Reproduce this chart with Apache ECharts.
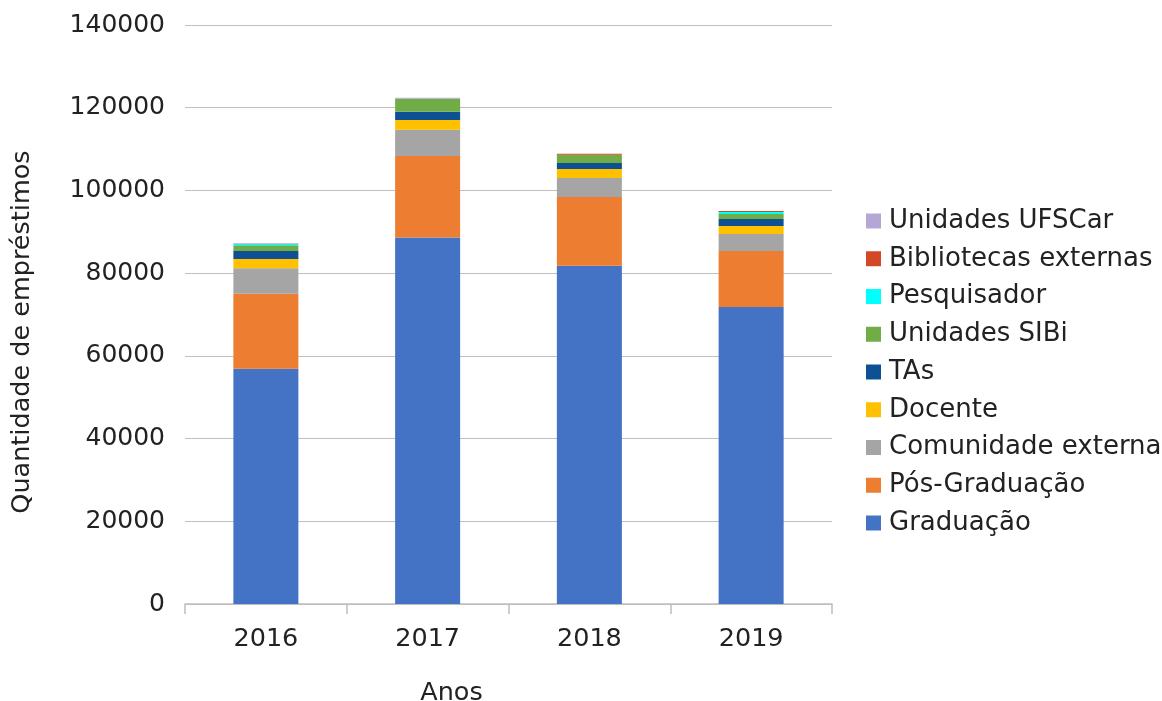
<!DOCTYPE html>
<html>
<head>
<meta charset="utf-8">
<script src="https://cdn.jsdelivr.net/npm/echarts@6/dist/echarts.min.js"></script>
<style>
  html, body { margin: 0; padding: 0; background: #fff; }
  #chart { width: 1162px; height: 701px; }
</style>
</head>
<body>
<div id="chart"></div>
<script>
  // dados
  var anos = ['2016', '2017', '2018', '2019']
  var graduacao = [56900, 88600, 81800, 71800]
  var posGraduacao = [18100, 19750, 16600, 13550]
  var comunidadeExterna = [6200, 6300, 4600, 4100]
  var docente = [2200, 2400, 2200, 1950]
  var tas = [1950, 1950, 1450, 1700]
  var unidadesSibi = [1400, 3150, 1950, 1200]
  var pesquisador = [300, 0, 0, 480]
  var bibliotecasExternas = [0, 0, 240, 240]
  var unidadesUfscar = [200, 250, 0, 0]
  var yTicks = [0, 20000, 40000, 60000, 80000, 100000, 120000, 140000]

  var fonte = 'DejaVu Sans'
  var myChart = echarts.init(document.getElementById('chart'))

  function serie(nome, dados, cor) {
    return {
      name: nome,
      type: 'bar',
      stack: 'total',
      barWidth: 65,
      data: dados,
      itemStyle: { color: cor },
      emphasis: { disabled: true }
    }
  }

  var series = [
    serie('Graduação', graduacao, '#4472C4'),
    serie('Pós-Graduação', posGraduacao, '#ED7D31'),
    serie('Comunidade externa', comunidadeExterna, '#A5A5A5'),
    serie('Docente', docente, '#FFC000'),
    serie('TAs', tas, '#0D5194'),
    serie('Unidades SIBi', unidadesSibi, '#70AD47'),
    serie('Pesquisador', pesquisador, '#00FFFF'),
    serie('Bibliotecas externas', bibliotecasExternas, '#D24726'),
    serie('Unidades UFSCar', unidadesUfscar, '#B4A7D6')
  ]

  var option = {
    animation: false,
    textStyle: { fontFamily: fonte },
    grid: { left: 185, right: 330, top: 25, bottom: 97, outerBoundsMode: 'none' },
    legend: {
      orient: 'vertical',
      left: 866,
      top: 208,
      padding: 0,
      itemWidth: 15,
      itemHeight: 15,
      itemGap: 11.75,
      icon: 'rect',
      data: series.map(function (s) { return s.name }).reverse(),
      textStyle: { fontFamily: fonte, fontSize: 26, color: '#222', lineHeight: 26, padding: [0, 0, 0, 3] }
    },
    xAxis: {
      type: 'category',
      data: anos,
      name: 'Anos',
      nameLocation: 'middle',
      nameGap: 76,
      nameTextStyle: { fontFamily: fonte, fontSize: 25.5, color: '#222', padding: [0, 114, 0, 0] },
      axisLine: { lineStyle: { color: '#BFBFBF', width: 1.5 } },
      axisTick: { show: true, length: 10, lineStyle: { color: '#BFBFBF', width: 1.5 } },
      axisLabel: { fontFamily: fonte, fontSize: 25.5, color: '#222', margin: 22 }
    },
    yAxis: {
      type: 'value',
      min: yTicks[0],
      max: yTicks[yTicks.length - 1],
      interval: 20000,
      name: 'Quantidade de empréstimos',
      nameLocation: 'middle',
      nameGap: 150,
      nameTextStyle: { fontFamily: fonte, fontSize: 25.5, color: '#222', padding: [0, 35, 0, 0] },
      axisLine: { show: false },
      axisTick: { show: false },
      splitLine: { lineStyle: { color: '#BFBFBF', width: 1.2 } },
      axisLabel: {
        fontFamily: fonte, fontSize: 25, color: '#222', margin: 20,
        formatter: function (v) { return String(v) }
      }
    },
    series: series
  }
  myChart.setOption(option)
</script>
</body>
</html>
